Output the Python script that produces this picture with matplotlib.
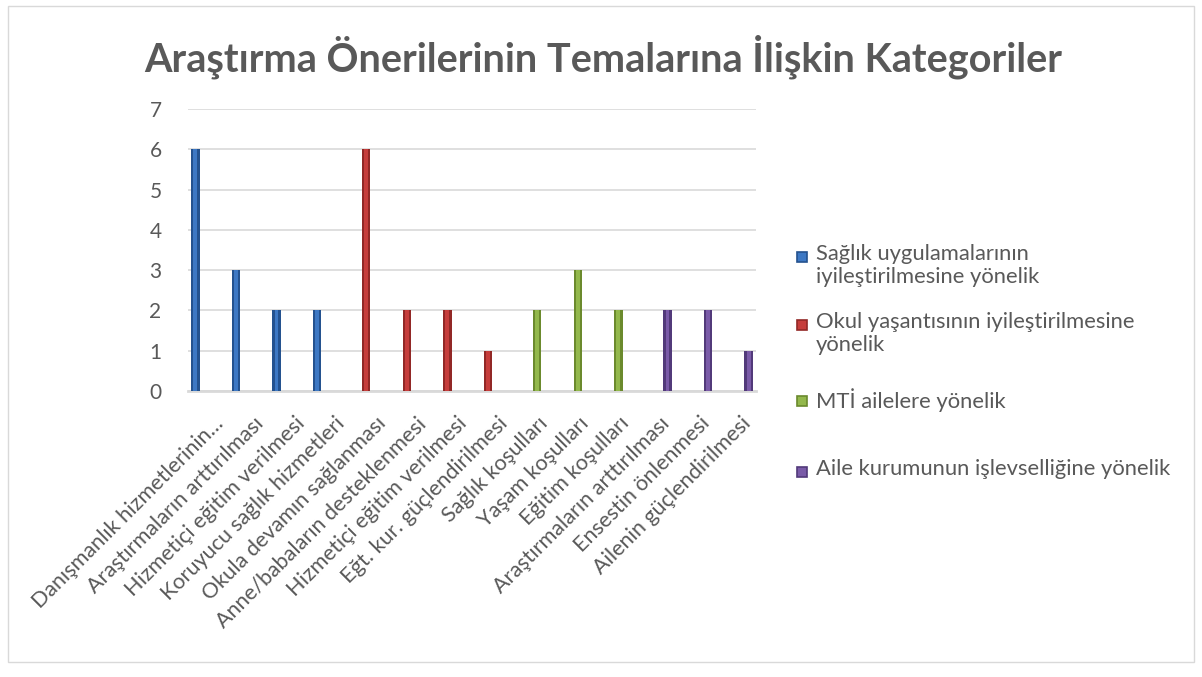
import numpy as np
import matplotlib.pyplot as plt
from matplotlib.patches import Rectangle

# categories (x axis) and the four series
categories = ["Danışmanlık hizmetlerinin…", "Araştırmaların arttırılması",
              "Hizmetiçi eğitim verilmesi", "Koruyucu sağlık hizmetleri",
              "Okula devamın sağlanması", "Anne/babaların desteklenmesi",
              "Hizmetiçi eğitim verilmesi", "Eğt. kur. güçlendirilmesi",
              "Sağlık koşulları", "Yaşam koşulları", "Eğitim koşulları",
              "Araştırmaların arttırılması", "Ensestin önlenmesi",
              "Ailenin güçlendirilmesi"]
series_names = ["Sağlık uygulamalarının\niyileştirilmesine yönelik",
                "Okul yaşantısının iyileştirilmesine\nyönelik",
                "MTİ ailelere yönelik",
                "Aile kurumunun işlevselliğine yönelik"]
saglik = [6, 3, 2, 2]
okul = [6, 2, 2, 1]
mti = [2, 3, 2]
aile = [2, 2, 1]
series_vals = [saglik, okul, mti, aile]
series_start = [0, 4, 8, 11]   # first category index of each series

darks = ["#24528f", "#922826", "#6b8a2d", "#523a7a"]
lights = ["#3d78c4", "#c63d3b", "#93b84c", "#7a5ba8"]
txt = "#595959"

plt.rcParams['font.family'] = ['Lato', 'DejaVu Sans']

fig = plt.figure(figsize=(12.02, 6.77), dpi=100)
ax = fig.add_axes([188/1202, 1-391/677, 568/1202, 282/677])

w = 0.21
offs = [-0.32, -0.107, 0.107, 0.32]
for i, vals in enumerate(series_vals):
    x = np.arange(len(vals)) + series_start[i] + offs[i]
    ax.bar(x, vals, width=w, color=darks[i], linewidth=0, zorder=3)
    # lighter core to mimic the rounded shading
    ax.bar(x, vals, width=w*0.45, color=lights[i], linewidth=0, zorder=4)

ax.set_xlim(-0.5, len(categories) - 0.5)
ax.set_ylim(0, 7)
ax.set_yticks(range(0, 8))
ax.yaxis.grid(True, color="#d9d9d9", linewidth=1.2, zorder=0)
ax.set_axisbelow(True)
for s in ["top", "right", "left"]:
    ax.spines[s].set_visible(False)
ax.spines["bottom"].set_color("#d9d9d9")
ax.spines["bottom"].set_linewidth(2)
ax.tick_params(axis="both", length=0, colors=txt)
ax.tick_params(axis="y", pad=19, labelsize=15)
ax.set_xticks(np.arange(len(categories)) + 0.12)
ax.set_xticklabels(categories, rotation=45, ha="right", va="top", rotation_mode="anchor",
                   fontsize=15.6)
ax.tick_params(axis="x", pad=16)

fig.text(0.502, 1-57/677, "Araştırma Önerilerinin Temalarına İlişkin Kategoriler",
         ha="center", va="center", fontsize=28.5, fontweight="bold", color=txt)

# legend drawn by hand so every entry gets the same slot
leg_y = [257, 325, 401, 472]
for i, name in enumerate(series_names):
    y = 1 - leg_y[i]/677
    fig.patches.append(Rectangle((797/1202, y - 5/677), 10/1202, 10/677,
                                 facecolor=lights[i], edgecolor=darks[i], lw=1.2,
                                 transform=fig.transFigure, figure=fig))
    fig.text(816/1202, y + 13/677, name, ha="left", va="top",
             fontsize=15.8, color=txt, linespacing=1.2)

fig.patches.append(Rectangle((8/1202, 1-662/677), 1186/1202, 656/677, fill=False,
                             edgecolor="#d9d9d9", lw=1, transform=fig.transFigure, figure=fig))

fig.savefig("out.png", dpi=100)
